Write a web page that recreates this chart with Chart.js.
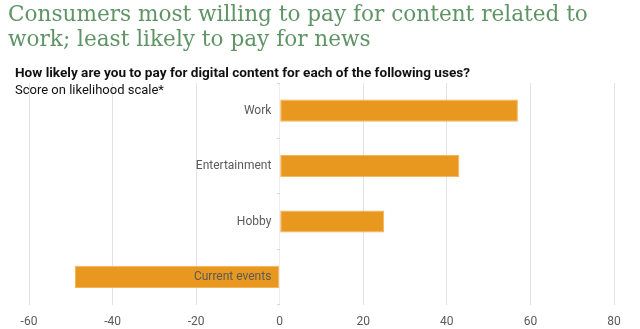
<!DOCTYPE html>
<html>
<head>
<meta charset="utf-8">
<script src="https://cdn.jsdelivr.net/npm/chart.js@4/dist/chart.umd.min.js"></script>
<style>
  html, body { margin: 0; padding: 0; background: #fff; }
  #wrap { position: relative; width: 640px; height: 329px; }
  #chart { position: absolute; left: 0; top: 0; }
  .title {
    position: absolute; left: 8px; top: 1px; margin: 0; white-space: nowrap;
    font-family: "DejaVu Serif", serif; font-weight: normal;
    font-size: 21.6px; line-height: 25px; color: #5f9465;
  }
  .sub {
    position: absolute; left: 15px; top: 64px; white-space: nowrap;
    font-family: Roboto, sans-serif; font-size: 13px; line-height: 17px; color: #111;
  }
  .sub b { font-weight: bold; font-size: 13.6px; }
</style>
</head>
<body>
<div id="wrap">
  <canvas id="chart" width="640" height="329"></canvas>
  <h1 class="title">Consumers most willing to pay for content related to<br>work; least likely to pay for news</h1>
  <div class="sub"><b>How likely are you to pay for digital content for each of the following uses?</b><br>Score on likelihood scale*</div>
</div>
<script>
// survey categories and likelihood scores
const categories = ['Work', 'Entertainment', 'Hobby', 'Current events'];
const scores = [57, 43, 25, -49];
const xTicks = [-60, -40, -20, 0, 20, 40, 60, 80];

const BAR_COLOR = '#e8971f';
const TEXT_COLOR = '#5a5a5a';

new Chart(document.getElementById('chart'), {
  type: 'bar',
  data: {
    labels: categories,
    datasets: [{
      label: 'Score',
      data: scores,
      backgroundColor: BAR_COLOR,
      borderColor: '#f3b45a',
      borderWidth: 1,
      borderSkipped: false,
      barPercentage: 0.4,
      categoryPercentage: 1,
    }],
  },
  options: {
    indexAxis: 'y',
    responsive: false,
    animation: false,
    layout: { padding: { top: 83, left: 29, right: 26, bottom: -10 } },
    plugins: {
      legend: { display: false },
      tooltip: { enabled: false },
    },
    scales: {
      x: {
        min: -60,
        max: 80,
        afterBuildTicks: (axis) => { axis.ticks = xTicks.map((v) => ({ value: v })); },
        ticks: {
          color: TEXT_COLOR,
          font: { family: 'Roboto', size: 12 },
          padding: 10,
        },
        grid: {
          color: (ctx) => (ctx.tick && ctx.tick.value === 0 ? '#eeeeee' : '#e3e3e3'),
          drawTicks: false,
        },
        border: { display: false },
      },
      // tick marks sitting on the zero line
      y: {
        position: { x: 0 },
        ticks: { display: false },
        grid: {
          offset: true,
          drawOnChartArea: false,
          drawTicks: true,
          tickLength: 3,
          color: '#d6d6d6',
        },
        border: { display: false },
      },
      // category labels, just left of zero, drawn over the bars
      yLabels: {
        type: 'category',
        axis: 'y',
        position: { x: -2 },
        ticks: {
          z: 1,
          color: TEXT_COLOR,
          font: { family: 'Roboto', size: 12 },
        },
        grid: { display: false },
        border: { display: false },
      },
    },
  },
});
</script>
</body>
</html>
